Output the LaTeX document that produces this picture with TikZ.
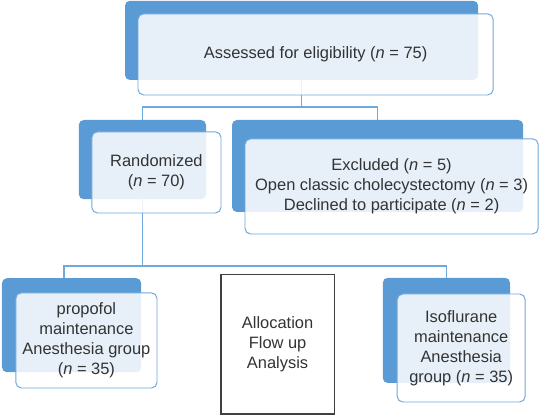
\documentclass[tikz,border=0pt]{standalone}
\usepackage{fontspec}
\setmainfont{Liberation Sans}
\usepackage{xcolor}
\usetikzlibrary{positioning}

\definecolor{darkblue}{HTML}{5B9BD5}
\definecolor{lineblue}{HTML}{6FA8DC}
\definecolor{textgray}{HTML}{333333}

\begin{document}
\begin{tikzpicture}[
    every node/.style={font=\fontsize{11.7}{14.2}\selectfont, text=textgray},
    backbox/.style={fill=darkblue, rounded corners=3.5pt, inner sep=0pt},
    frontbox/.style={draw=lineblue, line width=0.7pt, fill=white, fill opacity=0.86, text opacity=1, rounded corners=4pt, align=center, inner sep=0pt},
    plainbox/.style={draw=black!75, line width=0.8pt, align=center, inner sep=0pt},
    link/.style={draw=lineblue, line width=0.9pt}
    ]
    \useasboundingbox (0,0) rectangle (13.5,-10.375);

    % shaded back boxes
    \node[backbox, minimum width=8.83cm, minimum height=1.98cm] (assessBack) at (7.54,-1.01) {};
    \node[backbox, minimum width=3.18cm, minimum height=1.98cm] (randBack) at (3.56,-3.99) {};
    \node[backbox, minimum width=7.28cm, minimum height=2.3cm] (exclBack) at (9.44,-4.15) {};
    \node[backbox, minimum width=3.48cm, minimum height=2.35cm] (propBack) at (1.79,-8.13) {};
    \node[backbox, minimum width=3.18cm, minimum height=2.63cm] (isoBack) at (11.16,-8.26) {};

    % connectors
    \coordinate (split1) at (assessBack.south |- 0,-2.675);
    \coordinate (split2) at (randBack.south |- 0,-6.65);
    \coordinate (propTop) at (1.6,-6.95);
    \draw[link] (assessBack.south) -- (split1);
    \draw[link] (randBack.north) |- (split1) -| (exclBack.north);
    \draw[link] (randBack.south) -- (split2);
    \draw[link] (propTop) |- (split2) -| (isoBack.north);

    % front boxes
    \node[frontbox, minimum width=8.88cm, minimum height=2.03cm] (assess) at (7.89,-1.36) {Assessed for eligibility (\textit{n} = 75)};
    \node[frontbox, minimum width=3.23cm, minimum height=2.03cm] (rand) at (3.91,-4.31) {Randomized\\(\textit{n} = 70)};
    \node[frontbox, minimum width=7.33cm, minimum height=2.38cm] (excl) at (9.79,-4.66) {Excluded (\textit{n} = 5)\\Open classic cholecystectomy (\textit{n} = 3)\\Declined to participate (\textit{n} = 2)};
    \node[frontbox, minimum width=3.53cm, minimum height=2.38cm] (prop) at (2.16,-8.51) {propofol\\maintenance\\Anesthesia group\\(\textit{n} = 35)};
    \node[frontbox, minimum width=3.2cm, minimum height=2.7cm] (iso) at (11.53,-8.7) {Isoflurane\\maintenance\\Anesthesia\\group (\textit{n} = 35)};

    \node[plainbox, minimum width=2.83cm, minimum height=3.48cm] (alloc) at (6.94,-8.61) {Allocation\\Flow up\\Analysis};
\end{tikzpicture}
\end{document}
